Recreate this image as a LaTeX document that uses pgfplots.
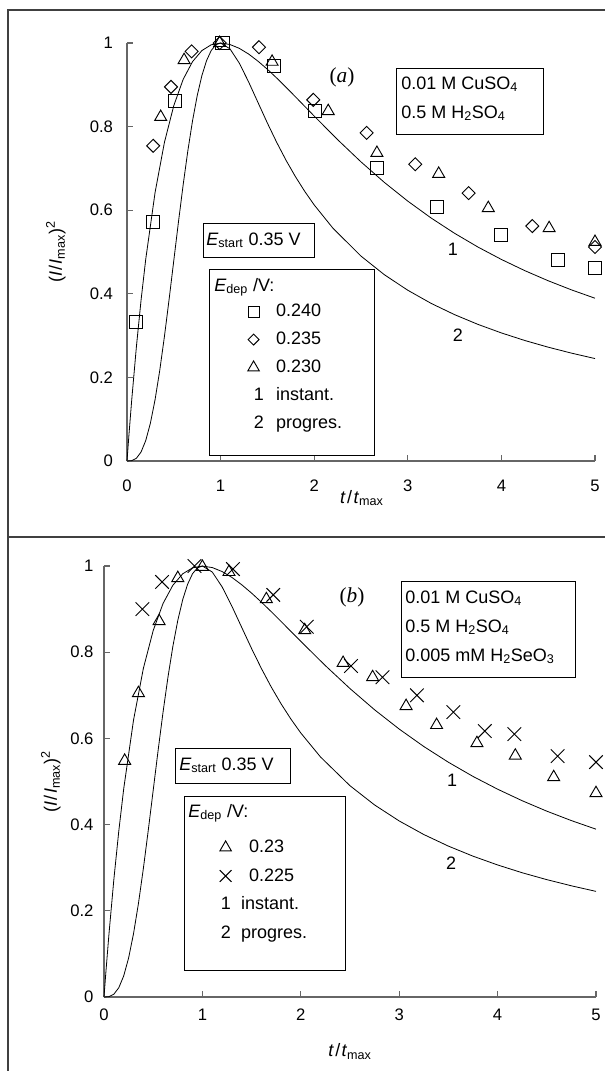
\documentclass[border=0pt]{standalone}
\usepackage{fontspec}
\setmainfont{Liberation Sans}
\newfontfamily\timesfont{Liberation Serif}
\usepackage{pgfplots}
\pgfplotsset{compat=1.18}

\newcommand{\fs}{\fontsize{13.5}{16}\selectfont}
\newcommand{\fst}{\fontsize{12.5}{15}\selectfont}
% legend image: fixed 0.6cm wide cell, mark in its middle
\newcommand{\legmark}[1]{\addlegendimage{legend image code/.code={\path (0cm,0cm) (0.6cm,0cm); \draw[black, line width=0.7pt, only marks, #1] plot coordinates {(0.3cm,0cm)};}}}
\newcommand{\legnum}[2]{\addlegendimage{legend image code/.code={\path (0cm,0cm) (0.6cm,0cm); \node[inner sep=0pt, font=\fs] at (0.3cm-#2,0) {#1};}}}

\pgfplotsset{
  myaxis/.style={
    scale only axis, anchor=south west,
    xmin=0, xmax=5, ymin=0, ymax=1,
    axis lines*=left,
    axis line style={black!60, line width=0.8pt},
    tick style={black!60, line width=0.8pt},
    tick align=inside, major tick length=4.5pt,
    xtick={0,1,2,3,4,5}, ytick={0,0.2,0.4,0.6,0.8,1},
    clip=false,
    tick label style={font=\fst},
    label style={font=\fs},
    /pgf/number format/assume math mode=true,
    xlabel={\textit{t}\kern1pt/\kern1pt\textit{t}\textsubscript{max}},
    ylabel={(\textit{I}\kern1pt/\kern1pt\textit{I}\textsubscript{max})\textsuperscript{2}},
    legend cell align=left,
  },
  sq/.style={only marks, mark=square, mark size=4.9pt, mark options={line width=0.7pt, black}},
  dm/.style={only marks, mark=square, mark size=3.45pt, mark options={rotate=45, line width=0.7pt, black}},
  tr/.style={only marks, mark=triangle, mark size=5.2pt, mark options={line width=0.7pt, black}},
  cr/.style={only marks, mark=x, mark size=7.2pt, mark options={line width=0.7pt, black}},
  crv/.style={black, line width=0.6pt, no marks},
}

\pgfplotstableread{
x y
0 0
0.02 0.0602
0.05 0.1449
0.1 0.2724
0.15 0.3844
0.2 0.4825
0.3 0.6424
0.4 0.7624
0.5 0.8503
0.6 0.9130
0.7 0.9554
0.8 0.9819
0.9 0.9958
1.0 0.9999
1.1 0.9964
1.2 0.9872
1.3 0.9735
1.4 0.9564
1.5 0.9371
1.6 0.9161
1.7 0.8940
1.8 0.8712
1.9 0.8482
2.0 0.8252
2.25 0.7688
2.5 0.7156
2.75 0.6664
3.0 0.6217
3.25 0.5812
3.5 0.5447
3.75 0.5118
4.0 0.4822
4.25 0.4554
4.5 0.4312
4.75 0.4093
5.0 0.3894
}\instant

\pgfplotstableread{
x y
0 0
0.05 0.0008
0.1 0.0065
0.15 0.0214
0.2 0.0488
0.25 0.0905
0.3 0.1469
0.35 0.2169
0.4 0.2981
0.45 0.3870
0.5 0.4797
0.55 0.5723
0.6 0.6608
0.65 0.7421
0.7 0.8137
0.75 0.8739
0.8 0.9220
0.85 0.9579
0.9 0.9822
0.95 0.9958
1.0 1.0000
1.1 0.9861
1.2 0.9518
1.3 0.9066
1.4 0.8574
1.5 0.8084
1.6 0.7620
1.7 0.7191
1.8 0.6801
1.9 0.6447
2.0 0.6126
2.2 0.5570
2.5 0.4902
2.75 0.4456
3.0 0.4085
3.25 0.3770
3.5 0.3501
3.75 0.3268
4.0 0.3064
4.25 0.2883
4.5 0.2723
4.75 0.2580
5.0 0.2451
}\progres

\begin{document}
\begin{tikzpicture}
\path[use as bounding box] (0,0) rectangle (453pt,-803.25pt);

% ---------------- panel (a)
\begin{axis}[myaxis,
  at={(95.25pt,-345.75pt)}, width=351pt, height=313.5pt,
  yticklabel style={xshift=-7pt},
  xticklabel style={yshift=-10.8pt},
  xlabel style={at={(axis description cs:0.502,-0.1005)}, anchor=base},
  ylabel style={at={(axis description cs:-0.152,0.5)}, anchor=center},
  legend style={draw=none, fill=none, at={(axis description cs:0.245,0.382)}, anchor=north west,
    row sep=6pt, column sep=6.2pt, inner sep=0pt,
    cells={inner sep=0pt, text height=9.5pt, text depth=2.5pt}, font=\fs},
]
\addplot[crv, forget plot] table {\instant};
\addplot[crv, forget plot] table {\progres};
\addplot[sq, forget plot] coordinates {(0.10,0.333) (0.28,0.572) (0.51,0.861) (1.02,1.0) (1.57,0.945) (2.01,0.837) (2.67,0.70) (3.31,0.607) (4.0,0.54) (4.6,0.48) (5.0,0.462)};
\addplot[dm, forget plot] coordinates {(0.28,0.754) (0.47,0.895) (0.69,0.98) (0.99,1.0) (1.41,0.99) (1.99,0.864) (2.56,0.785) (3.08,0.71) (3.65,0.641) (4.33,0.562) (5.0,0.512)};
\addplot[tr, forget plot] coordinates {(0.36,0.823) (0.61,0.959) (0.99,1.0) (1.55,0.955) (2.15,0.837) (2.67,0.737) (3.33,0.687) (3.86,0.605) (4.51,0.557) (5.0,0.524)};
\legmark{mark=square, mark size=4.1pt}
\addlegendentry{0.240}
\legmark{mark=square, mark size=2.9pt, mark options={rotate=45}}
\addlegendentry{0.235}
\legmark{mark=triangle, mark size=5.0pt}
\addlegendentry{0.230}
\legnum{1}{0pt}
\addlegendentry{instant.}
\legnum{2}{0pt}
\addlegendentry{progres.}
\end{axis}

% ---------------- panel (b)
\begin{axis}[myaxis,
  at={(78pt,-747.75pt)}, width=369pt, height=323.25pt,
  yticklabel style={xshift=-4.4pt},
  xticklabel style={yshift=-5.6pt},
  xlabel style={at={(axis description cs:0.5,-0.139)}, anchor=base},
  ylabel style={at={(axis description cs:-0.108,0.5)}, anchor=center},
  legend style={draw=none, fill=none, at={(axis description cs:0.223,0.3705)}, anchor=north west,
    row sep=6.3pt, column sep=6.8pt, inner sep=0pt,
    cells={inner sep=0pt, text height=9.5pt, text depth=2.5pt}, font=\fs},
]
\addplot[crv, forget plot] table {\instant};
\addplot[crv, forget plot] table {\progres};
\addplot[tr, forget plot] coordinates {(0.21,0.548) (0.35,0.705) (0.56,0.872) (0.75,0.972) (1.0,0.998) (1.27,0.986) (1.65,0.923) (2.04,0.851) (2.43,0.775) (2.73,0.742) (3.07,0.675) (3.38,0.631) (3.79,0.589) (4.18,0.56) (4.57,0.51) (5.0,0.473)};
\addplot[cr, forget plot] coordinates {(0.39,0.90) (0.59,0.963) (0.92,1.0) (1.31,0.993) (1.72,0.933) (2.06,0.859) (2.51,0.768) (2.83,0.742) (3.18,0.70) (3.55,0.661) (3.87,0.617) (4.17,0.61) (4.61,0.559) (5.0,0.545)};
\legmark{mark=triangle, mark size=5.0pt}
\addlegendentry{0.23}
\legmark{mark=x, mark size=6.2pt}
\addlegendentry{0.225}
\legnum{1}{3.75pt}
\addlegendentry{\hspace*{-6pt}instant.}
\legnum{2}{3.75pt}
\addlegendentry{\hspace*{-6pt}progres.}
\end{axis}

% ---------------- frame, boxes and annotations (pixel coordinates)
\begin{scope}[x=0.75pt, y=-0.75pt]
\draw[black!75, line width=1.1pt] (8,1080) -- (8,10) -- (620,10);
\draw[black!75, line width=1.1pt] (8,537) -- (620,537);

\tikzset{tx/.style={inner sep=0pt, anchor=base west, font=\fs}, bx/.style={black, line width=0.75pt}}

% panel a
\node[inner sep=0pt, font=\timesfont\fontsize{16}{18}\selectfont] at (342,77) {(\textit{a})};
\draw[bx] (396,68) rectangle (543,134);
\node[tx] at (401,89) {0.01 M CuSO\textsubscript{4}};
\node[tx] at (401,118) {0.5 M H\textsubscript{2}SO\textsubscript{4}};
\draw[bx] (203,223) rectangle (314,257);
\node[tx] at (206,245) {\textit{E}\textsubscript{start} 0.35 V};
\draw[bx] (209,269) rectangle (374,455);
\node[tx] at (214,291) {\textit{E}\textsubscript{dep} /V:};
\node[inner sep=0pt, font=\fs] at (453,249) {1};
\node[inner sep=0pt, font=\fs] at (458,335) {2};

% panel b
\node[inner sep=0pt, font=\timesfont\fontsize{16}{18}\selectfont] at (352,597) {(\textit{b})};
\draw[bx] (401,581) rectangle (575,677);
\node[tx] at (405,603) {0.01 M CuSO\textsubscript{4}};
\node[tx] at (405,632) {0.5 M H\textsubscript{2}SO\textsubscript{4}};
\node[tx] at (405,661) {0.005 mM H\textsubscript{2}SeO\textsubscript{3}};
\draw[bx] (175,748) rectangle (290,783);
\node[tx] at (179,770) {\textit{E}\textsubscript{start} 0.35 V};
\draw[bx] (184,796) rectangle (345,970);
\node[tx] at (188,817) {\textit{E}\textsubscript{dep} /V:};
\node[inner sep=0pt, font=\fs] at (452,780) {1};
\node[inner sep=0pt, font=\fs] at (451,863) {2};
\end{scope}
\end{tikzpicture}
\end{document}
